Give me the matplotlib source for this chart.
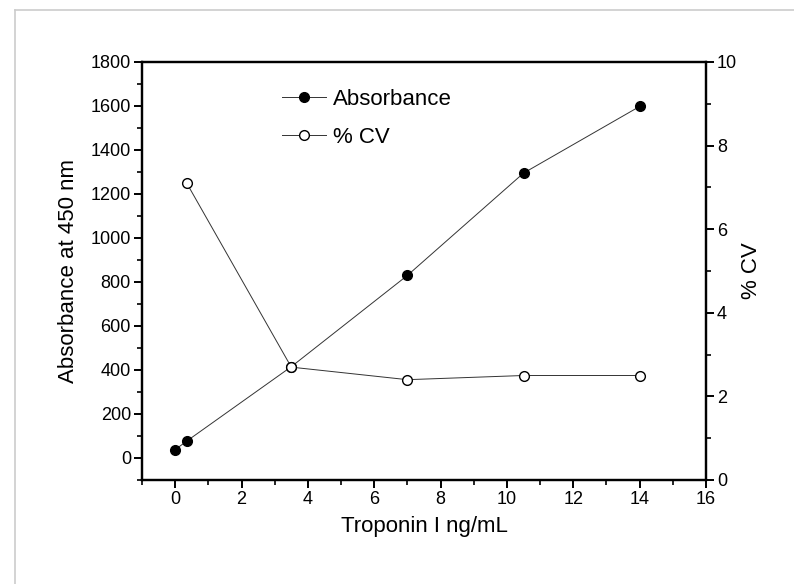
import matplotlib.pyplot as plt
from matplotlib.ticker import MultipleLocator
from matplotlib.lines import Line2D

plt.rcParams['font.family'] = ['Liberation Sans', 'DejaVu Sans']

# Troponin I concentration (ng/mL)
conc_abs = [0, 0.35, 3.5, 7, 10.5, 14]
absorbance = [38, 77, 415, 830, 1295, 1598]

conc_cv = [0.35, 3.5, 7, 10.5, 14]
cv = [7.1, 2.7, 2.4, 2.5, 2.5]

fig = plt.figure(figsize=(7.94, 5.84), dpi=100)

# light grey frame of the original picture
fig.add_artist(Line2D([15 / 794, 15 / 794], [0, 1 - 10 / 584], color='#cccccc', lw=1.2))
fig.add_artist(Line2D([15 / 794, 1], [1 - 10 / 584, 1 - 10 / 584], color='#cccccc', lw=1.2))

ax = fig.add_axes([142 / 794, 1 - 480 / 584, 564 / 794, 418 / 584])
ax2 = ax.twinx()

ax.plot(conc_abs, absorbance, color='#333333', lw=0.7, marker='o', ms=7,
        mfc='black', mec='black', label='Absorbance', zorder=3)
ax2.plot(conc_cv, cv, color='#333333', lw=0.7, marker='o', ms=7,
         mfc='white', mec='black', mew=1.0, label='% CV', zorder=4)

ax.set_xlim(-1, 16)
ax.set_ylim(-100, 1800)
ax2.set_ylim(0, 10)

ax.xaxis.set_major_locator(MultipleLocator(2))
ax.xaxis.set_minor_locator(MultipleLocator(1))
ax.yaxis.set_major_locator(MultipleLocator(200))
ax.yaxis.set_minor_locator(MultipleLocator(100))
ax2.yaxis.set_major_locator(MultipleLocator(2))
ax2.yaxis.set_minor_locator(MultipleLocator(1))
ax.set_yticks(range(0, 1801, 200))

for a in (ax, ax2):
    for s in a.spines.values():
        s.set_linewidth(1.6)
    a.tick_params(which='major', direction='out', length=6, width=1.4, labelsize=13, pad=2)
    a.tick_params(which='minor', direction='out', length=3.5, width=1.2)

ax.set_xlabel('Troponin I ng/mL', fontsize=16, labelpad=6)
ax.set_ylabel('Absorbance at 450 nm', fontsize=16, labelpad=8)
ax2.set_ylabel('% CV', fontsize=16, labelpad=3)

h1, l1 = ax.get_legend_handles_labels()
h2, l2 = ax2.get_legend_handles_labels()
ax.legend(h1 + h2, l1 + l2, loc='upper left', bbox_to_anchor=(0.248, 0.935),
          frameon=False, fontsize=16, handlelength=2.0, handletextpad=0.3,
          labelspacing=0.75, borderpad=0, borderaxespad=0)

fig.savefig('out.png', dpi=100)
